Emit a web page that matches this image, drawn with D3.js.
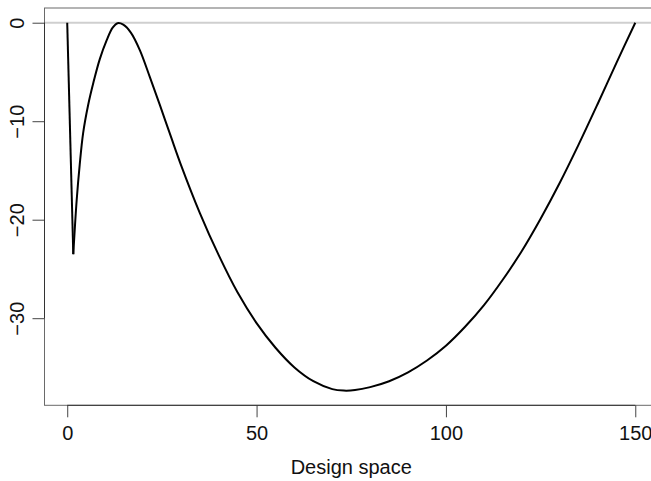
<!DOCTYPE html>
<html>
<head>
<meta charset="utf-8">
<script src="https://cdn.jsdelivr.net/npm/d3@7"></script>
<style>
  html, body { margin: 0; padding: 0; background: #fff; overflow: hidden; }
  svg { display: block; font-family: "Liberation Sans", Arial, sans-serif; }
</style>
</head>
<body>
<div id="chart"></div>
<script>
// values
const designX = [0, 1.6, 2.5, 3.3, 4.2, 5.5, 6.9, 8.6, 10.4, 12, 13.3, 14.8, 16.8, 19.2, 21.8,
  24.5, 27.5, 30, 35, 40, 45, 50, 55, 60, 65, 70, 73, 76, 80, 85, 90, 95, 100,
  105, 110, 115, 120, 125, 130, 135, 140, 145, 150];
const objective = [0, -23.5, -18, -14.4, -11.2, -8.4, -6.1, -3.7, -1.8, -0.5, -0.05, -0.2, -1.0,
  -2.8, -5.5, -8.4, -11.7, -14.4, -19.3, -23.6, -27.4, -30.5, -33.0, -35.0, -36.4,
  -37.2, -37.35, -37.3, -37.0, -36.4, -35.5, -34.3, -32.8, -30.9, -28.7, -26.1,
  -23.2, -19.9, -16.3, -12.4, -8.3, -4.1, 0];
const xTicks = [0, 50, 100, 150];
const yTicks = [-30, -20, -10, 0];
const xLabel = "Design space";

const width = 651;
const height = 481;
// plot region (R style, right edge falls outside the window)
const margin = { top: 8, right: -7, bottom: 75.7, left: 44.5 };

const svg = d3.select("#chart")
  .append("svg")
  .attr("width", width)
  .attr("height", height);

// R pads the data range by 4% on each side
const pad = ([a, b]) => [a - (b - a) * 0.04, b + (b - a) * 0.04];

const x = d3.scaleLinear(pad(d3.extent(designX)), [margin.left, width - margin.right]);
const y = d3.scaleLinear(pad(d3.extent(objective)), [height - margin.bottom, margin.top]);

const [x0, x1] = x.range();
const [yb, yt] = y.range();

// reference line at zero
svg.append("line")
  .attr("x1", x0).attr("x2", x1)
  .attr("y1", y(0)).attr("y2", y(0))
  .attr("stroke", "#cfcfcf")
  .attr("stroke-width", 2);

// box
svg.append("rect")
  .attr("x", x0).attr("y", yt)
  .attr("width", x1 - x0).attr("height", yb - yt)
  .attr("fill", "none")
  .attr("stroke", "#6a6a6a")
  .attr("stroke-width", 1);

// x axis
const xAxis = d3.axisBottom(x).tickValues(xTicks).tickSize(12).tickPadding(9).tickSizeOuter(0);
svg.append("g")
  .attr("transform", `translate(0,${yb})`)
  .call(xAxis)
  .call((g) => g.select(".domain").remove())
  .call((g) => g.selectAll(".tick line").attr("stroke", "#444"))
  .call((g) => g.selectAll(".tick text")
    .attr("fill", "#111")
    .style("font-size", "20px")
    .style("font-family", "Liberation Sans, Arial, sans-serif"))
  .append("line")
  .attr("x1", x(xTicks[0])).attr("x2", x(xTicks[xTicks.length - 1]))
  .attr("stroke", "#333");

// y axis, labels turned like R's default las = 0
const yAxis = d3.axisLeft(y).tickValues(yTicks).tickSize(12).tickSizeOuter(0)
  .tickFormat((d) => (d < 0 ? "\u2212" + Math.abs(d) : d));
svg.append("g")
  .attr("transform", `translate(${x0},0)`)
  .call(yAxis)
  .call((g) => g.select(".domain").remove())
  .call((g) => g.selectAll(".tick line").attr("stroke", "#444"))
  .call((g) => g.selectAll(".tick text")
    .attr("transform", "rotate(-90)")
    .attr("x", 0)
    .attr("y", -20.5)
    .attr("dy", 0)
    .attr("text-anchor", "middle")
    .attr("fill", "#111")
    .style("font-size", "20px")
    .style("font-family", "Liberation Sans, Arial, sans-serif"))
  .append("line")
  .attr("y1", y(yTicks[0])).attr("y2", y(yTicks[yTicks.length - 1]))
  .attr("stroke", "#333");

// axis title
svg.append("text")
  .attr("x", (x0 + x1) / 2)
  .attr("y", 474)
  .attr("text-anchor", "middle")
  .attr("fill", "#111")
  .style("font-size", "20px")
  .text(xLabel);

// curve: straight drop to the cusp, smooth afterwards
const points = designX.map((d, i) => [d, objective[i]]);
const cusp = 1;

svg.append("path")
  .datum(points.slice(0, cusp + 1))
  .attr("fill", "none")
  .attr("stroke", "#000")
  .attr("stroke-width", 2)
  .attr("d", d3.line().x((d) => x(d[0])).y((d) => y(d[1])));

svg.append("path")
  .datum(points.slice(cusp))
  .attr("fill", "none")
  .attr("stroke", "#000")
  .attr("stroke-width", 2)
  .attr("stroke-linejoin", "round")
  .attr("d", d3.line().curve(d3.curveCatmullRom.alpha(0.5)).x((d) => x(d[0])).y((d) => y(d[1])));
</script>
</body>
</html>
